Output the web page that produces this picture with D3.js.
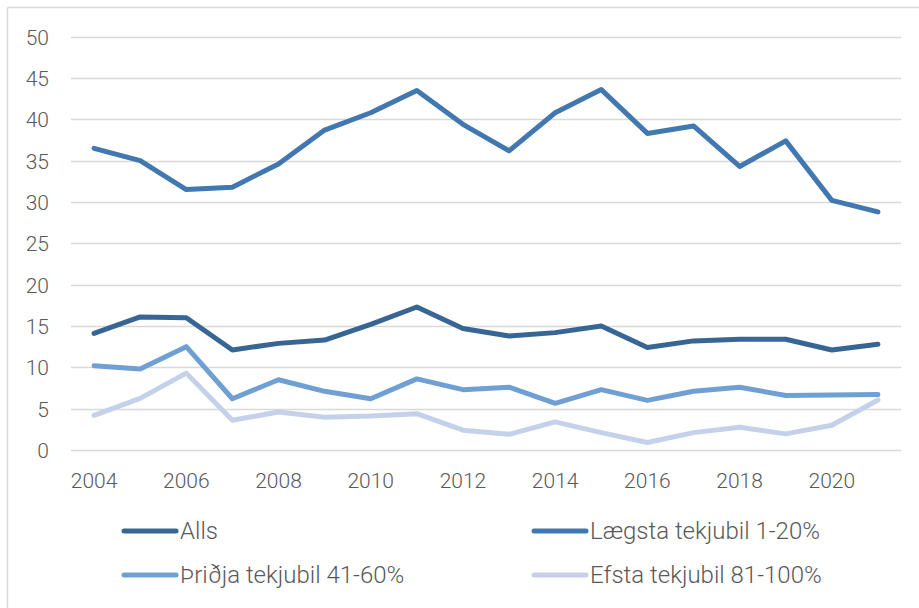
<!DOCTYPE html>
<html>
<head>
<meta charset="utf-8">
<script src="https://cdn.jsdelivr.net/npm/d3@7"></script>
<style>
  html, body { margin: 0; padding: 0; background: #fff; }
  svg { display: block; }
  text { font-family: Roboto, "Open Sans", sans-serif; font-weight: 300; fill: #595959; }
</style>
</head>
<body>
<svg id="chart" width="919" height="608"></svg>
<script>
const years = [2004,2005,2006,2007,2008,2009,2010,2011,2012,2013,2014,2015,2016,2017,2018,2019,2020,2021];
const xTickLabels = ["2004","2006","2008","2010","2012","2014","2016","2018","2020"];
const yTicks = [0,5,10,15,20,25,30,35,40,45,50];

const seriesNames = ["Alls", "Lægsta tekjubil 1-20%", "Þriðja tekjubil 41-60%", "Efsta tekjubil 81-100%"];
const seriesColors = ["#376594", "#4278b0", "#70a0d3", "#c3d2ea"];

const alls    = [14.1,16.1,16.0,12.1,12.9,13.3,15.2,17.3,14.7,13.8,14.2,15.0,12.4,13.2,13.4,13.4,12.1,12.8];
const laegsta = [36.5,35.0,31.5,31.8,34.6,38.7,40.8,43.5,39.4,36.2,40.8,43.6,38.3,39.2,34.3,37.4,30.2,28.8];
const thridja = [10.2,9.8,12.5,6.2,8.5,7.1,6.2,8.6,7.3,7.6,5.65,7.3,6.0,7.1,7.6,6.6,6.65,6.7];
const efsta   = [4.2,6.25,9.3,3.6,4.6,3.95,4.1,4.4,2.4,1.9,3.4,2.1,0.9,2.1,2.75,1.95,3.0,6.05];

const seriesValues = [alls, laegsta, thridja, efsta];

const svg = d3.select("#chart");

// outer frame (left and top edges visible)
svg.append("line").attr("x1", 7.5).attr("x2", 7.5).attr("y1", 7.5).attr("y2", 608)
  .attr("stroke", "#d9d9d9").attr("stroke-width", 1.5);
svg.append("line").attr("x1", 7.5).attr("x2", 919).attr("y1", 7.5).attr("y2", 7.5)
  .attr("stroke", "#d9d9d9").attr("stroke-width", 1.5);

const plotLeft = 71, plotRight = 901, plotTop = 36.7, plotBottom = 450;

const x = d3.scaleBand().domain(years).range([plotLeft, plotRight]);
const y = d3.scaleLinear().domain([0, 50]).range([plotBottom, plotTop]);

// gridlines
svg.append("g").selectAll("line").data(yTicks).join("line")
  .attr("x1", plotLeft).attr("x2", plotRight)
  .attr("y1", d => Math.round(y(d)) + 0.5).attr("y2", d => Math.round(y(d)) + 0.5)
  .attr("stroke", "#d9d9d9").attr("stroke-width", 1.5);

// y axis labels
const yAxis = d3.axisLeft(y).tickValues(yTicks).tickSize(0).tickPadding(0);
const gy = svg.append("g").attr("transform", `translate(49,0)`).call(yAxis);
gy.select(".domain").remove();
gy.selectAll("text").attr("font-size", 21).attr("font-family", "Roboto, sans-serif")
  .attr("font-weight", 300).attr("fill", "#595959").attr("dy", "0.35em");

// x axis labels
const xAxis = d3.axisBottom(x).tickValues(xTickLabels.map(Number)).tickSize(0).tickPadding(0)
  .tickFormat(d => String(d));
const gx = svg.append("g").attr("transform", `translate(0,481)`).call(xAxis);
gx.select(".domain").remove();
gx.selectAll("text").attr("font-size", 21).attr("font-family", "Roboto, sans-serif")
  .attr("font-weight", 300).attr("fill", "#595959").attr("dy", "0.35em");

// lines
const line = d3.line()
  .x((d, i) => x(years[i]) + x.bandwidth() / 2)
  .y(d => y(d));

svg.append("g").selectAll("path").data(seriesValues).join("path")
  .attr("d", d => line(d))
  .attr("fill", "none")
  .attr("stroke", (d, i) => seriesColors[i])
  .attr("stroke-width", 5)
  .attr("stroke-linejoin", "round")
  .attr("stroke-linecap", "round");

// legend
const legendPos = [[122, 531], [532, 531], [122, 575], [532, 575]];
const lg = svg.append("g").selectAll("g").data(seriesNames).join("g")
  .attr("transform", (d, i) => `translate(${legendPos[i][0]},${legendPos[i][1]})`);
lg.append("line").attr("x1", 2).attr("x2", 54).attr("y1", 0).attr("y2", 0)
  .attr("stroke", (d, i) => seriesColors[i]).attr("stroke-width", 5).attr("stroke-linecap", "round");
lg.append("text").attr("x", 58).attr("y", 0).attr("dy", "0.35em")
  .attr("font-size", 24).text(d => d);
</script>
</body>
</html>
